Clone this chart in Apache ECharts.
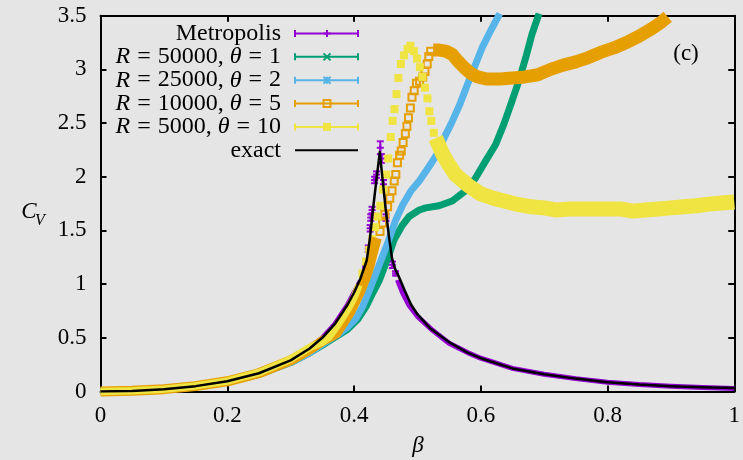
<!DOCTYPE html>
<html>
<head>
<meta charset="utf-8">
<script src="https://cdn.jsdelivr.net/npm/echarts@6/dist/echarts.min.js"></script>
<style>
  html, body { margin: 0; padding: 0; background: #e5e5e5; }
  #chart { width: 743px; height: 460px; }
</style>
</head>
<body>
<div id="chart"></div>
<script>
// ---------- axis ticks ----------
const xTickValues = [0, 0.2, 0.4, 0.6, 0.8, 1];
const xTickLabels = ['0', '0.2', '0.4', '0.6', '0.8', '1'];
const yTickValues = [0, 0.5, 1, 1.5, 2, 2.5, 3, 3.5];
const yTickLabels = ['0', '0.5', '1', '1.5', '2', '2.5', '3', '3.5'];

// ---------- Metropolis ----------
const metroLowBeta = [0, 0.05, 0.1, 0.15, 0.2, 0.25, 0.3, 0.33, 0.35, 0.37, 0.38, 0.39, 0.40, 0.41];
const metroLowCv   = [0, 0.005, 0.02, 0.05, 0.095, 0.17, 0.29, 0.40, 0.50, 0.63, 0.72, 0.81, 0.92, 1.03];
const metroPeakBeta = [0.4155, 0.4185, 0.4225, 0.4255, 0.4265, 0.4285, 0.4325, 0.4355, 0.4415, 0.4435, 0.4465, 0.4505, 0.4555, 0.4605, 0.4655];
const metroPeakCv   = [1.07, 1.16, 1.33, 1.52, 1.62, 1.69, 1.97, 2.02, 2.27, 2.17, 1.93, 1.62, 1.25, 1.18, 1.10];
const metroPeakErr  = [0.02, 0.02, 0.03, 0.03, 0.03, 0.03, 0.03, 0.03, 0.06, 0.04, 0.04, 0.03, 0.03, 0.03, 0.02];
const metroHighBeta = [0.4686, 0.4765, 0.487, 0.50, 0.524, 0.55, 0.58, 0.60, 0.65, 0.70, 0.75, 0.80, 0.85, 0.90, 0.95, 1.0];
const metroHighCv   = [1.04, 0.92, 0.80, 0.70, 0.57, 0.45, 0.36, 0.31, 0.215, 0.16, 0.12, 0.087, 0.065, 0.05, 0.037, 0.027];

// ---------- R = 50000, theta = 1 ----------
const r50Beta = [0, 0.1, 0.2, 0.25, 0.3, 0.33, 0.35, 0.366, 0.377, 0.39, 0.4057, 0.419, 0.429, 0.44, 0.448, 0.4556, 0.463, 0.4765, 0.487, 0.503, 0.513, 0.534, 0.555, 0.576, 0.592, 0.608, 0.6235, 0.6365, 0.6496, 0.66, 0.671, 0.681, 0.692];
const r50Cv   = [0, 0.02, 0.09, 0.16, 0.27, 0.36, 0.43, 0.49, 0.53, 0.58, 0.67, 0.79, 0.91, 1.035, 1.16, 1.28, 1.41, 1.55, 1.63, 1.69, 1.71, 1.73, 1.775, 1.87, 1.99, 2.15, 2.30, 2.49, 2.71, 2.89, 3.11, 3.33, 3.52];

// ---------- R = 25000, theta = 2 ----------
const r25Beta = [0, 0.1, 0.2, 0.25, 0.3, 0.33, 0.35, 0.366, 0.377, 0.39, 0.403, 0.4135, 0.424, 0.4346, 0.4425, 0.453, 0.466, 0.477, 0.49, 0.503, 0.518, 0.532, 0.542, 0.553, 0.566, 0.579, 0.592, 0.602, 0.613, 0.63];
const r25Cv   = [0, 0.02, 0.09, 0.16, 0.27, 0.36, 0.44, 0.50, 0.54, 0.60, 0.68, 0.79, 0.94, 1.10, 1.22, 1.38, 1.60, 1.74, 1.87, 1.96, 2.09, 2.22, 2.36, 2.49, 2.66, 2.86, 3.05, 3.20, 3.33, 3.52];

// ---------- R = 10000, theta = 5 ----------
const r10LowBeta = [0, 0.05, 0.1, 0.15, 0.2, 0.25, 0.3, 0.33, 0.35, 0.36, 0.372, 0.382, 0.393, 0.403, 0.411, 0.419, 0.424, 0.43, 0.436];
const r10LowCv   = [0.0, 0.006, 0.022, 0.05, 0.095, 0.17, 0.29, 0.39, 0.47, 0.50, 0.54, 0.63, 0.73, 0.85, 0.95, 1.07, 1.16, 1.30, 1.43];
const r10PtBeta  = [0.441, 0.445, 0.4485, 0.453, 0.4565, 0.460, 0.4635, 0.466, 0.4685, 0.472, 0.4745, 0.4775, 0.481, 0.4835, 0.486, 0.489, 0.4915, 0.495, 0.4985, 0.5035, 0.5085, 0.512, 0.5155, 0.518, 0.521];
const r10PtCv    = [1.49, 1.57, 1.65, 1.72, 1.80, 1.87, 1.96, 2.02, 2.13, 2.20, 2.24, 2.32, 2.40, 2.47, 2.55, 2.64, 2.74, 2.80, 2.87, 2.89, 2.93, 2.98, 3.05, 3.12, 3.17];
const r10HighBeta = [0.525, 0.535, 0.545, 0.555, 0.565, 0.575, 0.585, 0.595, 0.61, 0.63, 0.65, 0.67, 0.69, 0.71, 0.73, 0.75, 0.77, 0.79, 0.81, 0.83, 0.85, 0.87, 0.885, 0.895];
const r10HighCv   = [3.18, 3.18, 3.17, 3.14, 3.07, 3.01, 2.96, 2.93, 2.91, 2.91, 2.92, 2.93, 2.95, 3.00, 3.04, 3.07, 3.11, 3.16, 3.20, 3.25, 3.31, 3.38, 3.44, 3.49];

// ---------- R = 5000, theta = 10 ----------
const r5LowBeta = [0, 0.05, 0.1, 0.15, 0.2, 0.25, 0.3, 0.33, 0.35, 0.361, 0.372, 0.382, 0.3926, 0.4005, 0.408];
const r5LowCv   = [0.0, 0.006, 0.022, 0.052, 0.097, 0.175, 0.30, 0.41, 0.46, 0.51, 0.60, 0.69, 0.79, 0.88, 0.99];
const r5PtBeta  = [0.4135, 0.419, 0.424, 0.429, 0.4335, 0.437, 0.4415, 0.446, 0.451, 0.454, 0.458, 0.461, 0.464, 0.467, 0.470, 0.474, 0.479, 0.4845, 0.489, 0.4945, 0.4995, 0.504, 0.508, 0.512, 0.516, 0.519, 0.522, 0.526];
const r5PtCv    = [1.10, 1.21, 1.32, 1.42, 1.53, 1.63, 1.73, 1.88, 2.02, 2.17, 2.37, 2.52, 2.63, 2.77, 2.92, 3.05, 3.13, 3.19, 3.22, 3.17, 3.10, 3.02, 2.93, 2.83, 2.73, 2.61, 2.52, 2.41];
const r5TailBeta = [0.529, 0.54, 0.55, 0.56, 0.58, 0.60, 0.62, 0.64, 0.66, 0.68, 0.70, 0.72, 0.74, 0.76, 0.78, 0.80, 0.82, 0.84, 0.86, 0.88, 0.90, 0.92, 0.94, 0.96, 0.98, 1.0];
const r5TailCv   = [2.36, 2.21, 2.11, 2.02, 1.92, 1.84, 1.80, 1.77, 1.74, 1.72, 1.71, 1.69, 1.70, 1.70, 1.70, 1.70, 1.70, 1.68, 1.69, 1.70, 1.71, 1.72, 1.73, 1.745, 1.755, 1.765];

// ---------- exact ----------
const exactBeta = [0, 0.05, 0.1, 0.15, 0.2, 0.25, 0.3, 0.33, 0.35, 0.37, 0.38, 0.39, 0.40, 0.41, 0.42, 0.425, 0.43, 0.435, 0.4407, 0.445, 0.45, 0.455, 0.46, 0.465, 0.47, 0.48, 0.49, 0.50, 0.52, 0.55, 0.58, 0.60, 0.65, 0.70, 0.75, 0.80, 0.85, 0.90, 0.95, 1.0];
const exactCv   = [0, 0.005, 0.02, 0.05, 0.095, 0.17, 0.29, 0.40, 0.50, 0.63, 0.72, 0.81, 0.92, 1.05, 1.22, 1.42, 1.70, 1.95, 2.23, 1.98, 1.70, 1.45, 1.24, 1.14, 1.08, 0.94, 0.81, 0.72, 0.59, 0.46, 0.36, 0.31, 0.215, 0.16, 0.12, 0.087, 0.065, 0.05, 0.04, 0.032];

// ---------- legend ----------
const legendLabels = [
  'Metropolis',
  '{i|R}{eq|=}50000, {i|θ}{eq|=}1',
  '{i|R}{eq|=}25000, {i|θ}{eq|=}2',
  '{i|R}{eq|=}10000, {i|θ}{eq|=}5',
  '{i|R}{eq|=}5000, {i|θ}{eq|=}10',
  'exact'
];
const legendMarkers = ['plus', 'cross', 'star', 'openSquare', 'square', 'none'];

const COLORS = ['#9400d3', '#009e73', '#56b4e9', '#e69f00', '#f0e442', '#000000'];
const FONT = 'Liberation Serif';

function pairs(xs, ys) { return xs.map((x, i) => [x, ys[i]]); }
function tickLabel(values, labels) {
  return v => {
    const i = values.findIndex(t => Math.abs(t - v) < 1e-9);
    return i >= 0 ? labels[i] : '';
  };
}

function bandSeries(data, color, width, clip) {
  return {
    type: 'line', data: data, showSymbol: false, symbol: 'none', silent: true,
    clip: clip, animation: false,
    lineStyle: { color: color, width: width, cap: 'butt', join: 'round' }
  };
}

// marker shapes drawn as zrender elements around (cx, cy)
function markerShapes(kind, cx, cy, color, h) {
  const st = { stroke: color, lineWidth: 2 };
  const L = (x1, y1, x2, y2) => ({ type: 'line', shape: { x1, y1, x2, y2 }, style: st, silent: true });
  if (kind === 'plus') return [L(cx - h, cy, cx + h, cy), L(cx, cy - h, cx, cy + h)];
  if (kind === 'cross') return [L(cx - h, cy - h, cx + h, cy + h), L(cx - h, cy + h, cx + h, cy - h)];
  if (kind === 'star') return [L(cx - h, cy, cx + h, cy), L(cx, cy - h, cx, cy + h),
                                L(cx - h, cy - h, cx + h, cy + h), L(cx - h, cy + h, cx + h, cy - h)];
  if (kind === 'openSquare') return [{ type: 'rect', shape: { x: cx - h, y: cy - h, width: 2 * h, height: 2 * h },
                                       style: { fill: 'none', stroke: color, lineWidth: 2 }, silent: true }];
  if (kind === 'square') return [{ type: 'rect', shape: { x: cx - h - 0.5, y: cy - h - 0.5, width: 2 * h + 1, height: 2 * h + 1 },
                                   style: { fill: color }, silent: true }];
  return [];
}

// legend block: right-aligned labels with gnuplot-like error-bar samples
function buildLegend() {
  const out = [];
  const textRight = 281, x1 = 295, x2 = 358, xm = 327, y0 = 33.5, dy = 23.35;
  legendLabels.forEach((label, i) => {
    const y = y0 + i * dy;
    const c = COLORS[i];
    out.push({
      type: 'text', silent: true,
      style: {
        text: label, x: textRight, y: y, align: 'right', verticalAlign: 'middle',
        font: '24px "' + FONT + '"', fill: '#000',
        rich: {
          i: { font: 'italic 24px "' + FONT + '"', fill: '#000' },
          eq: { font: '24px "' + FONT + '"', fill: '#000', padding: [0, 7, 0, 7] }
        }
      }
    });
    out.push({ type: 'line', silent: true, shape: { x1: x1, y1: y, x2: x2, y2: y },
               style: { stroke: c, lineWidth: 2 } });
    if (legendMarkers[i] !== 'none') {
      out.push({ type: 'line', silent: true, shape: { x1: x1, y1: y - 3.5, x2: x1, y2: y + 3.5 }, style: { stroke: c, lineWidth: 2 } });
      out.push({ type: 'line', silent: true, shape: { x1: x2, y1: y - 3.5, x2: x2, y2: y + 3.5 }, style: { stroke: c, lineWidth: 2 } });
      markerShapes(legendMarkers[i], xm, y, c, 3.5).forEach(m => out.push(m));
    }
  });
  return out;
}

const chart = echarts.init(document.getElementById('chart'), null, { renderer: 'canvas' });

const axisCommon = {
  type: 'value',
  splitLine: { show: false },
  axisLine: { show: true, onZero: false, lineStyle: { color: '#000', width: 2 } },
  axisTick: { show: true, inside: true, length: 6, lineStyle: { color: '#000', width: 2 } }
};

const option = {
  backgroundColor: '#e5e5e5',
  animation: false,
  grid: { left: 100.5, right: 6.5, top: 15.7, bottom: 68.5, containLabel: false },
  xAxis: [
    Object.assign({}, axisCommon, {
      min: 0, max: 1, interval: 0.2, position: 'bottom',
      axisLabel: { show: true, margin: 13, color: '#000', fontFamily: FONT, fontSize: 23,
                   formatter: tickLabel(xTickValues, xTickLabels) }
    }),
    Object.assign({}, axisCommon, {
      min: 0, max: 1, interval: 0.2, position: 'top', axisLabel: { show: false }
    })
  ],
  yAxis: [
    Object.assign({}, axisCommon, {
      min: 0, max: 3.5, interval: 0.5, position: 'left',
      axisLabel: { show: true, margin: 14, color: '#000', fontFamily: FONT, fontSize: 23,
                   formatter: tickLabel(yTickValues, yTickLabels) }
    }),
    Object.assign({}, axisCommon, {
      min: 0, max: 3.5, interval: 0.5, position: 'right', axisLabel: { show: false }
    })
  ],
  series: [
    // Metropolis
    bandSeries(pairs(metroLowBeta, metroLowCv), COLORS[0], 5, false),
    bandSeries(pairs(metroHighBeta, metroHighCv), COLORS[0], 5, false),
    {
      type: 'custom', silent: true, animation: false,
      data: metroPeakBeta.map((b, i) => [b, metroPeakCv[i], metroPeakErr[i]]),
      encode: { x: 0, y: 1 },
      renderItem: function (params, api) {
        const b = api.value(0), c = api.value(1), e = api.value(2);
        const p = api.coord([b, c]);
        const top = api.coord([b, c + e])[1];
        const bot = api.coord([b, c - e])[1];
        const w = 3.5, st = { stroke: COLORS[0], lineWidth: 2 };
        const kids = [
          { type: 'line', shape: { x1: p[0], y1: top, x2: p[0], y2: bot }, style: st },
          { type: 'line', shape: { x1: p[0] - w, y1: top, x2: p[0] + w, y2: top }, style: st },
          { type: 'line', shape: { x1: p[0] - w, y1: bot, x2: p[0] + w, y2: bot }, style: st }
        ].concat(markerShapes('plus', p[0], p[1], COLORS[0], w));
        return { type: 'group', children: kids };
      }
    },
    // R = 50000
    bandSeries(pairs(r50Beta, r50Cv), COLORS[1], 7, true),
    // R = 25000
    bandSeries(pairs(r25Beta, r25Cv), COLORS[2], 7, true),
    // R = 10000
    bandSeries(pairs(r10LowBeta, r10LowCv), COLORS[3], 10, false),
    {
      type: 'scatter', silent: true, animation: false,
      data: pairs(r10PtBeta, r10PtCv), symbol: 'rect', symbolSize: 7,
      itemStyle: { color: 'rgba(0,0,0,0)', borderColor: COLORS[3], borderWidth: 2, opacity: 1 }
    },
    bandSeries(pairs(r10HighBeta, r10HighCv), COLORS[3], 13, true),
    // R = 5000
    bandSeries(pairs(r5LowBeta, r5LowCv), COLORS[4], 7.5, false),
    {
      type: 'scatter', silent: true, animation: false,
      data: pairs(r5PtBeta, r5PtCv), symbol: 'rect', symbolSize: 8,
      itemStyle: { color: COLORS[4], opacity: 1 }
    },
    bandSeries(pairs(r5TailBeta, r5TailCv), COLORS[4], 15, false),
    // exact
    {
      type: 'line', data: pairs(exactBeta, exactCv), showSymbol: false, symbol: 'none',
      silent: true, animation: false, clip: true,
      lineStyle: { color: '#000', width: 2.5, join: 'round' }
    }
  ],
  graphic: buildLegend().concat([
    { type: 'text', silent: true, style: { text: '(c)', x: 686, y: 54, align: 'center', verticalAlign: 'middle',
      font: '23px "' + FONT + '"', fill: '#000' } },
    { type: 'text', silent: true, style: { text: 'β', x: 418, y: 446, align: 'center', verticalAlign: 'middle',
      font: 'italic 23px "' + FONT + '"', fill: '#000' } },
    { type: 'text', silent: true, style: { text: 'C', x: 29, y: 212, align: 'center', verticalAlign: 'middle',
      font: 'italic 23px "' + FONT + '"', fill: '#000' } },
    { type: 'text', silent: true, style: { text: 'V', x: 40, y: 221, align: 'center', verticalAlign: 'middle',
      font: 'italic 16px "' + FONT + '"', fill: '#000' } }
  ])
};

chart.setOption(option);
</script>
</body>
</html>
